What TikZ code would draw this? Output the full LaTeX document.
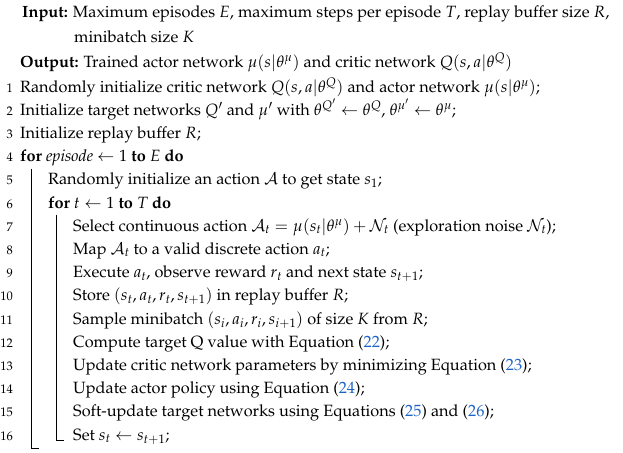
\documentclass[tikz,border=0pt]{standalone}
\usepackage[T1]{fontenc}
\usepackage{mathpazo}
\usepackage{amsmath}
\definecolor{refblue}{RGB}{30,100,200}
\newcommand{\eqr}[1]{(\textcolor{refblue}{#1})}
\begin{document}
\begin{tikzpicture}[x=1pt,y=-1pt,
  txt/.style={anchor=base west,inner sep=0pt,font=\fontsize{16.3}{21}\selectfont},
  num/.style={anchor=base east,inner sep=0pt,font=\fontsize{12.5}{15}\selectfont},
  bar/.style={line width=0.6pt}]
\useasboundingbox (0,0) rectangle (623,452);
\node[txt] (in) at (22,18) {\textbf{Input:} Maximum episodes $E$, maximum steps per episode $T$, replay buffer size $R$,};
\node[txt] (in2) at (74,42.5) {minibatch size $K$};
\node[txt] (out) at (20,67) {\textbf{Output:} Trained actor network $\mu(s|\theta^{\mu})$ and critic network $Q(s,a|\theta^{Q})$};
\foreach \n/\x/\t in {
 1/20/{Randomly initialize critic network $Q(s,a|\theta^{Q})$ and actor network $\mu(s|\theta^{\mu})$;},
 2/20/{Initialize target networks $Q'$ and $\mu'$ with $\theta^{Q'}\leftarrow\theta^{Q}$, $\theta^{\mu'}\leftarrow\theta^{\mu}$;},
 3/20/{Initialize replay buffer $R$;},
 4/20/{\textbf{for} \textit{episode} $\leftarrow 1$ \textbf{to} $E$ \textbf{do}},
 5/48/{Randomly initialize an action $\mathcal{A}$ to get state $s_1$;},
 6/48/{\textbf{for} $t\leftarrow 1$ \textbf{to} $T$ \textbf{do}},
 7/73/{Select continuous action $\mathcal{A}_t=\mu(s_t|\theta^{\mu})+\mathcal{N}_t$ (exploration noise $\mathcal{N}_t$);},
 8/73/{Map $\mathcal{A}_t$ to a valid discrete action $a_t$;},
 9/73/{Execute $a_t$, observe reward $r_t$ and next state $s_{t+1}$;},
 10/73/{Store $(s_t,a_t,r_t,s_{t+1})$ in replay buffer $R$;},
 11/73/{Sample minibatch $(s_i,a_i,r_i,s_{i+1})$ of size $K$ from $R$;},
 12/73/{Compute target Q value with Equation \eqr{22};},
 13/73/{Update critic network parameters by minimizing Equation \eqr{23};},
 14/73/{Update actor policy using Equation \eqr{24};},
 15/73/{Soft-update target networks using Equations \eqr{25} and \eqr{26};},
 16/73/{Set $s_t\leftarrow s_{t+1}$;}}
 {
  \node[num] (n\n) at (13,{92+(\n-1)*23.2}) {\n};
  \node[txt] (l\n) at (\x,{92+(\n-1)*23.2}) {\t};
 }
\coordinate (ob) at (31,448);
\coordinate (ib) at (56,440);
\draw[bar] (31,{92+3*23.2+7}) -- (ob) -- ++(8,0);
\draw[bar] (56,{92+5*23.2+7}) -- (ib) -- ++(8,0);
\end{tikzpicture}
\end{document}
